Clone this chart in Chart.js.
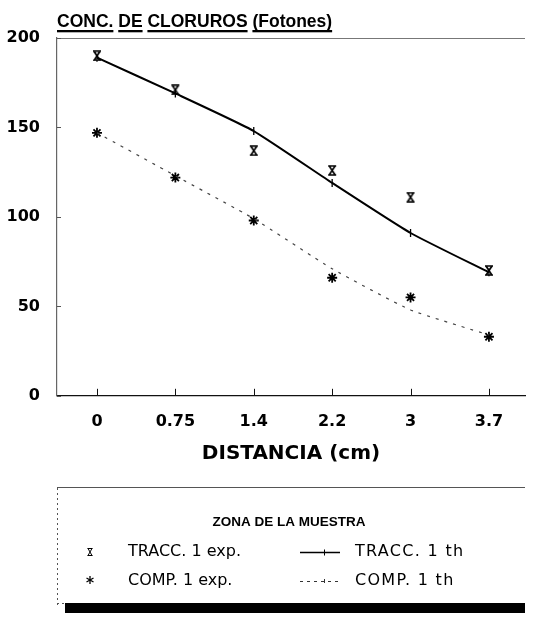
<!DOCTYPE html>
<html><head><meta charset="utf-8">
<script src="https://cdn.jsdelivr.net/npm/chart.js@4.4.1/dist/chart.umd.min.js"></script>
<style>html,body{margin:0;padding:0;background:#fff;}#wrap{width:556px;height:622px;position:relative;background:#fff}</style>
</head><body><div id="wrap"><canvas id="c" width="556" height="622"></canvas></div>
<script>
// ---- data ----
const distLabels = ['0', '0.75', '1.4', '2.2', '3', '3.7'];
const yTickValues = [0, 50, 100, 150, 200];
const traccExp = [190, 171, 137, 126, 111, 70];
const traccTh  = [189, 169, 148, 119, 91, 69];
const compExp  = [147, 122, 98, 66, 55, 33];
const compTh   = [147, 123, 99, 71, 48, 34];
const seriesNames = ['TRACC. 1 exp.', 'TRACC. 1 th', 'COMP. 1 exp.', 'COMP. 1 th'];
const chartTitle = 'CONC. DE CLORUROS (Fotones)';
const xTitle = 'DISTANCIA (cm)';
const legendTitle = 'ZONA DE LA MUESTRA';

const toPts = arr => arr.map((v, i) => ({x: i, y: v}));

function hourglass(size) {
  const c = document.createElement('canvas');
  c.width = size; c.height = size + 1;
  const g = c.getContext('2d');
  g.strokeStyle = '#000'; g.lineWidth = 1.6;
  g.beginPath();
  g.moveTo(1, 1); g.lineTo(size - 1, 1);
  g.moveTo(1, size); g.lineTo(size - 1, size);
  g.moveTo(2, 1); g.lineTo(size - 2, size);
  g.moveTo(size - 2, 1); g.lineTo(2, size);
  g.stroke();
  return c;
}
const hgChart = hourglass(10);

const deco = {
  id: 'deco',
  afterDraw(chart) {
    const {ctx, chartArea: a, scales: {x, y}} = chart;
    const line = (x1, y1, x2, y2) => { ctx.beginPath(); ctx.moveTo(x1, y1); ctx.lineTo(x2, y2); ctx.stroke(); };
    ctx.save();
    // title with underlined words
    ctx.fillStyle = '#000';
    ctx.font = 'bold 17.5px "Liberation Sans", Arial, sans-serif';
    ctx.textAlign = 'left'; ctx.textBaseline = 'alphabetic';
    let tx = 57;
    const sp = ctx.measureText(' ').width;
    chartTitle.split(' ').forEach(w => {
      const wd = ctx.measureText(w).width;
      ctx.fillText(w, tx, 27);
      ctx.fillRect(tx, 30, wd, 2.3);
      tx += wd + sp;
    });
    // top frame line
    ctx.strokeStyle = '#777'; ctx.lineWidth = 1;
    line(a.left, a.top + 0.5, a.right, a.top + 0.5);
    // inward ticks
    ctx.strokeStyle = '#111';
    x.ticks.forEach(t => { const px = Math.round(x.getPixelForValue(t.value)) + 0.5; line(px, a.bottom, px, a.bottom - 7); });
    ctx.strokeStyle = '#555';
    y.ticks.forEach(t => { const py = Math.round(y.getPixelForValue(t.value)) + 0.5; line(a.left, py, a.left + 4, py); });

    // ---- legend box ----
    ctx.strokeStyle = '#555'; ctx.lineWidth = 1;
    line(57, 487.5, 525, 487.5);
    ctx.setLineDash([2, 3]);
    line(57.5, 488, 57.5, 606);
    line(57, 603.5, 65, 603.5);
    ctx.setLineDash([]);
    ctx.fillStyle = '#000';
    ctx.fillRect(65, 603, 460, 10);

    ctx.font = 'bold 13.5px "Liberation Sans", Arial, sans-serif';
    ctx.textAlign = 'center'; ctx.textBaseline = 'middle';
    ctx.fillText(legendTitle, 289, 522);

    const r1 = 552, r2 = 581;
    ctx.font = '16px "DejaVu Sans", sans-serif';
    ctx.textAlign = 'left';
    ctx.fillText(seriesNames[0], 128, r1);
    ctx.fillText(seriesNames[2], 128, r2);
    ctx.letterSpacing = '1.3px';
    ctx.fillText(seriesNames[1], 355, r1);
    ctx.fillText(seriesNames[3], 355, r2);
    ctx.letterSpacing = '0px';

    // legend marker: hourglass small
    ctx.strokeStyle = '#000'; ctx.lineWidth = 1;
    const hx = 90, hy = r1;
    line(hx - 2.5, hy - 3.5, hx + 2.5, hy - 3.5);
    line(hx - 2.5, hy + 3.5, hx + 2.5, hy + 3.5);
    line(hx - 2, hy - 3.5, hx + 2, hy + 3.5);
    line(hx + 2, hy - 3.5, hx - 2, hy + 3.5);
    // legend marker: asterisk
    ctx.lineWidth = 1.3;
    const sx = 90, sy = r2 - 1;
    line(sx, sy - 4, sx, sy + 4);
    line(sx - 3.5, sy - 2, sx + 3.5, sy + 2);
    line(sx + 3.5, sy - 2, sx - 3.5, sy + 2);
    // legend line samples
    ctx.lineWidth = 1.5;
    line(300, r1 + 0.5, 340, r1 + 0.5);
    ctx.lineWidth = 1;
    line(324.5, r1 - 2.5, 324.5, r1 + 3.5);
    ctx.strokeStyle = '#333';
    ctx.setLineDash([3, 4]);
    line(300, r2 + 0.5, 340, r2 + 0.5);
    ctx.setLineDash([]);
    line(324.5, r2 - 2, 324.5, r2 + 2);
    ctx.restore();
  }
};

new Chart(document.getElementById('c'), {
  type: 'line',
  data: {
    datasets: [
      { label: seriesNames[1], data: toPts(traccTh), borderColor: '#000', borderWidth: 2, tension: 0.15,
        pointStyle: 'line', rotation: 90, pointRadius: 4, pointBorderWidth: 1.3, pointBorderColor: '#000', fill: false },
      { label: seriesNames[3], data: toPts(compTh), borderColor: '#444', borderWidth: 1.2, borderDash: [3, 6], tension: 0.15,
        pointRadius: 0, fill: false },
      { label: seriesNames[0], data: toPts(traccExp), showLine: false, pointStyle: hgChart, pointRadius: 5 },
      { label: seriesNames[2], data: toPts(compExp), showLine: false, pointStyle: 'star', pointRadius: 5,
        pointBorderWidth: 1.8, pointBorderColor: '#000', pointBackgroundColor: '#000' }
    ]
  },
  options: {
    responsive: false,
    devicePixelRatio: 1,
    animation: false,
    layout: { padding: { top: 38, right: 31, bottom: 156, left: 0 } },
    plugins: { legend: { display: false }, tooltip: { enabled: false }, title: { display: false } },
    scales: {
      x: {
        type: 'linear', min: -0.51, max: 5.46,
        afterBuildTicks: s => { s.ticks = distLabels.map((_, i) => ({value: i})); },
        ticks: { callback: v => distLabels[v], color: '#000', padding: 16, maxRotation: 0,
                 font: { family: '"DejaVu Sans", sans-serif', weight: 'bold', size: 16 } },
        grid: { display: true, drawOnChartArea: false, drawTicks: false },
        border: { display: true, color: '#111', width: 1.3 },
        title: { display: true, text: xTitle, color: '#000', padding: { top: -5, bottom: 0 },
                 font: { family: '"DejaVu Sans", sans-serif', weight: 'bold', size: 20 } }
      },
      y: {
        min: 0, max: 200,
        afterBuildTicks: s => { s.ticks = yTickValues.map(v => ({value: v})); },
        afterFit: s => { s.width = 57; },
        ticks: { color: '#000', padding: 17,
                 font: { family: '"DejaVu Sans", sans-serif', weight: 'bold', size: 16 } },
        grid: { display: true, drawOnChartArea: false, drawTicks: false },
        border: { display: true, color: '#666', width: 1.2 }
      }
    }
  },
  plugins: [deco]
});
</script>
</body></html>
